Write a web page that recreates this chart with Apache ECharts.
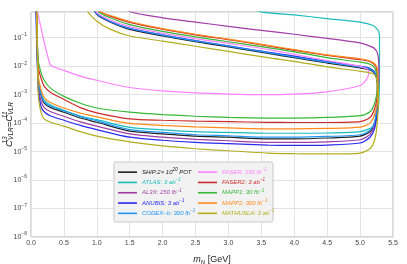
<!DOCTYPE html>
<html><head><meta charset="utf-8">
<script src="https://cdn.jsdelivr.net/npm/echarts@6/dist/echarts.min.js"></script>
<style>html,body{margin:0;padding:0;background:#fff}#c{width:407px;height:264px}</style>
</head><body><div id="c"></div>
<script>
// ---- data (mN [GeV], coupling); each curve is a closed contour ----
const SHIP = [[0.08,2],[0.11,3.2e-3],[0.15,1.0e-3],[0.2,5.0e-4],[0.3,3.5e-4],[0.5,2.4e-4],[0.75,1.51e-4],[1.0,1.07e-4],[1.5,5.2e-5],[2.0,4.2e-5],[2.5,3.5e-5],[3.0,3.2e-5],[3.6,2.8e-5],[4.0,2.8e-5],[4.5,3.0e-5],[5.0,3.5e-5],[5.15,5.0e-5],[5.22,1.0e-4],[5.26,4.0e-4],[5.27,1.6e-3],
  [5.26,3.2e-3],[5.22,5.6e-3],[5.15,7.4e-3],[5.0,8.7e-3],[4.5,1.29e-2],[4.0,2.0e-2],[3.6,2.8e-2],[3.0,4.8e-2],[2.5,7.2e-2],[2.0,0.115],[1.5,0.195],[1.2,0.355],[1.0,0.66],[0.88,2]];
const ATLAS = [[0.08,2],[0.11,4.0e-3],[0.15,1.26e-3],[0.2,6.3e-4],[0.3,4.3e-4],[0.5,2.8e-4],[0.75,1.78e-4],[1.0,1.32e-4],[1.5,7.1e-5],[2.0,5.8e-5],[2.5,5.0e-5],[3.0,4.7e-5],[3.6,4.4e-5],[4.0,4.4e-5],[4.5,4.5e-5],[5.0,5.0e-5],[5.2,7.9e-5],[5.27,2.5e-4],[5.29,1.0e-3],
  [5.295,1.0e-2],[5.295,1.0e-1],[5.285,0.16],[5.26,0.2],[5.2,0.27],[5.0,0.355],[4.5,0.47],[4.0,0.63],[3.48,0.83],[3.0,2]];
const AL3X = [[0.08,2],[0.11,2.0e-3],[0.15,6.3e-4],[0.2,3.5e-4],[0.3,2.5e-4],[0.5,1.74e-4],[0.75,1.1e-4],[1.0,7.8e-5],[1.5,4.2e-5],[2.0,3.2e-5],[2.5,2.7e-5],[3.0,2.4e-5],[3.6,2.1e-5],[4.0,2.1e-5],[4.5,2.2e-5],[5.0,2.6e-5],[5.15,4.0e-5],[5.22,7.9e-5],[5.26,3.2e-4],[5.28,2.0e-3],
  [5.285,8.0e-3],[5.27,2.5e-2],[5.22,4.2e-2],[5.1,5.6e-2],[5.0,6.6e-2],[4.5,9.5e-2],[4.0,0.132],[3.6,0.17],[3.0,0.25],[2.5,0.355],[2.0,0.5],[1.5,0.83],[1.3,2]];
const ANUBIS = [[0.07,2],[0.11,1.6e-3],[0.15,4.0e-4],[0.2,2.5e-4],[0.3,1.78e-4],[0.5,1.26e-4],[0.75,8.3e-5],[1.0,5.9e-5],[1.5,3.2e-5],[2.0,2.5e-5],[2.5,2.1e-5],[3.0,1.9e-5],[3.6,1.7e-5],[4.0,1.66e-5],[4.5,1.7e-5],[5.0,2.0e-5],[5.15,3.2e-5],[5.22,6.3e-5],[5.26,2.5e-4],[5.27,1.6e-3],
  [5.26,3.2e-3],[5.22,6.3e-3],[5.15,8.5e-3],[5.0,1.0e-2],[4.5,1.45e-2],[4.0,2.24e-2],[3.6,3.1e-2],[3.0,5.2e-2],[2.5,7.9e-2],[2.0,0.126],[1.5,0.214],[1.2,0.38],[1.0,0.71],[0.9,2]];
const CODEXB = [[0.08,2],[0.11,3.5e-3],[0.15,1.1e-3],[0.2,5.6e-4],[0.3,3.9e-4],[0.5,2.7e-4],[0.75,1.7e-4],[1.0,1.2e-4],[1.5,5.9e-5],[2.0,4.7e-5],[2.5,3.9e-5],[3.0,3.6e-5],[3.6,3.2e-5],[4.0,3.2e-5],[4.5,3.4e-5],[5.0,3.9e-5],[5.15,5.6e-5],[5.22,1.1e-4],[5.26,4.5e-4],[5.27,1.8e-3],
  [5.26,3.4e-3],[5.22,6.0e-3],[5.15,7.9e-3],[5.0,9.3e-3],[4.5,1.38e-2],[4.0,2.1e-2],[3.6,3.0e-2],[3.0,5.1e-2],[2.5,7.7e-2],[2.0,0.123],[1.5,0.21],[1.2,0.38],[1.0,0.7],[0.88,2]];
const FASER = [[0.065,2],[0.29,1.15e-2],[0.4,8.5e-3],[0.5,7.1e-3],[0.75,4.5e-3],[1.0,3.2e-3],[1.5,1.78e-3],[2.0,1.35e-3],[2.5,1.15e-3],[3.0,1.05e-3],[3.5,1.0e-3],[4.0,1.05e-3],[4.5,1.26e-3],[5.0,2.1e-3],[5.1,3.5e-3],[5.13,5.6e-3],[5.11,8.0e-3],
  [5.05,8.9e-3],[5.0,1.0e-2],[4.5,1.58e-2],[4.0,2.6e-2],[3.6,3.9e-2],[3.0,6.3e-2],[2.5,9.3e-2],[2.0,0.145],[1.5,0.245],[1.2,0.42],[1.0,0.76],[0.92,2]];
const FASER2 = [[0.08,2],[0.11,1.0e-2],[0.15,4.0e-3],[0.2,2.0e-3],[0.3,1.2e-3],[0.5,6.8e-4],[0.75,3.5e-4],[1.0,2.3e-4],[1.5,1.41e-4],[2.0,1.26e-4],[2.5,1.17e-4],[3.0,1.12e-4],[3.6,1.07e-4],[4.0,1.05e-4],[4.5,1.05e-4],[5.0,1.12e-4],[5.15,1.58e-4],[5.22,3.2e-4],[5.26,1.0e-3],
  [5.26,4.0e-3],[5.24,1.0e-2],[5.15,1.45e-2],[5.0,1.7e-2],[4.5,2.4e-2],[4.0,3.6e-2],[3.6,5.2e-2],[3.0,8.5e-2],[2.5,0.126],[2.0,0.2],[1.5,0.347],[1.2,0.575],[1.02,0.89],[0.95,2]];
const MAPP1 = [[0.08,2],[0.11,1.6e-2],[0.15,6.3e-3],[0.2,3.2e-3],[0.3,1.66e-3],[0.5,8.7e-4],[0.75,5.0e-4],[1.0,3.4e-4],[1.5,2.45e-4],[2.0,2.0e-4],[2.5,1.74e-4],[3.0,1.58e-4],[3.6,1.51e-4],[4.0,1.51e-4],[4.5,1.58e-4],[5.0,1.82e-4],[5.15,2.5e-4],[5.22,5.0e-4],[5.26,1.6e-3],
  [5.26,4.0e-3],[5.22,8.9e-3],[5.15,1.17e-2],[5.0,1.38e-2],[4.5,2.0e-2],[4.0,3.2e-2],[3.6,4.5e-2],[3.0,7.2e-2],[2.5,0.107],[2.0,0.166],[1.5,0.288],[1.2,0.5],[1.0,0.89],[0.9,2]];
const MAPP2 = [[0.08,2],[0.11,5.0e-3],[0.15,1.6e-3],[0.2,7.9e-4],[0.3,5.2e-4],[0.5,3.4e-4],[0.75,2.24e-4],[1.0,1.66e-4],[1.5,9.8e-5],[2.0,8.3e-5],[2.5,7.4e-5],[3.0,6.8e-5],[3.6,6.3e-5],[4.0,6.3e-5],[4.5,6.5e-5],[5.0,7.2e-5],[5.15,1.0e-4],[5.22,2.0e-4],[5.27,7.9e-4],
  [5.27,4.0e-3],[5.25,1.0e-2],[5.15,1.51e-2],[5.0,1.82e-2],[4.5,2.5e-2],[4.0,3.8e-2],[3.6,5.4e-2],[3.0,8.9e-2],[2.5,0.132],[2.0,0.209],[1.5,0.372],[1.25,0.56],[1.05,0.83],[0.95,2]];
const MATHUSLA = [[0.09,2],[0.11,1.0e-3],[0.15,2.5e-4],[0.2,1.41e-4],[0.3,1.07e-4],[0.5,7.8e-5],[0.75,5.0e-5],[1.0,3.5e-5],[1.5,2.2e-5],[2.0,1.58e-5],[2.5,1.26e-5],[3.0,1.07e-5],[3.6,8.9e-6],[4.0,8.5e-6],[4.5,8.3e-6],[5.0,8.9e-6],[5.15,1.26e-5],[5.22,2.5e-5],[5.26,1.0e-4],[5.28,1.0e-3],
  [5.27,2.5e-3],[5.22,5.0e-3],[5.15,5.8e-3],[5.0,6.6e-3],[4.5,9.5e-3],[4.0,1.48e-2],[3.6,2.0e-2],[3.0,3.3e-2],[2.5,5.0e-2],[2.0,7.6e-2],[1.5,0.115],[1.2,0.2],[1.0,0.38],[0.85,0.89],[0.8,2]];

const seriesNames = ['SHiP','ATLAS','AL3X','ANUBIS','CODEX-b','FASER','FASER2','MAPP1','MAPP2','MATHUSLA'];
const seriesData = [SHIP, ATLAS, AL3X, ANUBIS, CODEXB, FASER, FASER2, MAPP1, MAPP2, MATHUSLA];
const seriesColors = ['#222222','#1bbcbc','#a13ea6','#2a2af0','#2096f5','#ff80ff','#cc2b2b','#35b835','#ff8a1c','#b3ad1e'];
const legendLabels = ['SHiP:2× 10{sup|20} POT','ATLAS: 3 ab{sup|−1}','AL3X: 250 fb{sup|−1}','ANUBIS: 3 ab{sup|−1}','CODEX−b: 300 fb{sup|−1}',
                      'FASER: 150 fb{sup|−1}','FASER2: 3 ab{sup|−1}','MAPP1: 30 fb{sup|−1}','MAPP2: 300 fb{sup|−1}','MATHUSLA: 3 ab{sup|−1}'];
const xTickLabels = ['0.0','0.5','1.0','1.5','2.0','2.5','3.0','3.5','4.0','4.5','5.0','5.5'];
const yTickExps = [-8,-7,-6,-5,-4,-3,-2,-1];
const xRange = [0, 5.5];
const yRange = [1e-8, 0.8];

const FONT = 'Liberation Sans';
const chart = echarts.init(document.getElementById('c'), null, {renderer:'canvas'});
const labelMap = {};
seriesNames.forEach((n,i)=>labelMap[n]=legendLabels[i]);

function legendFor(names, left, width){
  return {
    show:true, orient:'vertical', left:left, top:167, z:60,
    itemWidth:19, itemHeight:1.6, itemGap:0, icon:'rect', selectedMode:false, padding:0,
    data: names.map(n=>({name:n, textStyle:{color: seriesColors[seriesNames.indexOf(n)]}})),
    formatter: n=>labelMap[n],
    textStyle:{fontFamily:FONT, fontStyle:'italic', fontSize:6, lineHeight:10.3, height:10.3, width:width, align:'right',
      rich:{sup:{fontSize:4.5, fontStyle:'italic', fontFamily:FONT, lineHeight:4, padding:[0,0,5,0]}}}
  };
}

const option = {
  animation:false,
  backgroundColor:'#ffffff',
  grid:{left:31, right:14, top:12, bottom:27, show:true, borderColor:'#b3b3b3', borderWidth:1, backgroundColor:'transparent',
    containLabel:false, outerBoundsMode:'none'},
  xAxis:{type:'value', min:xRange[0], max:xRange[1], interval:0.5,
    axisLine:{show:false}, axisTick:{show:false},
    splitLine:{show:true, lineStyle:{color:'#e3e3e3', width:1}},
    axisLabel:{fontFamily:FONT, fontSize:7, color:'#444', margin:3, formatter:(v)=>{const i=Math.round(v/0.5); return xTickLabels[i]||'';}},
    name:'{it|m}{sb|N} [GeV]', nameLocation:'middle', nameGap:18, nameMoveOverlap:false,
    nameTextStyle:{fontFamily:FONT, fontSize:9, color:'#222', rich:{it:{fontStyle:'italic', fontSize:9, fontFamily:FONT}, sb:{fontStyle:'italic', fontSize:6, fontFamily:FONT, lineHeight:4, padding:[5,0,0,0]}}}
  },
  yAxis:{type:'log', logBase:10, min:yRange[0], max:yRange[1], splitNumber:10,
    axisLine:{show:false}, axisTick:{show:false}, minorTick:{show:false},
    splitLine:{show:true, lineStyle:{color:'#e3e3e3', width:1}},
    axisLabel:{fontFamily:FONT, fontSize:7, color:'#444', margin:4, showMaxLabel:false,
      formatter:(v)=>{const l=Math.log10(v); const e=Math.round(l); if(Math.abs(l-e)>1e-3||yTickExps.indexOf(e)<0) return ''; return '10{sup|'+(e<0?'−':'')+Math.abs(e)+'}';},
      rich:{sup:{fontSize:5, fontFamily:FONT, color:'#444', lineHeight:4, padding:[0,0,6,0]}}},
    name:'C{sp|13}{sb|VLR}=C{sp|11}{sb|VLR}', nameLocation:'middle', nameGap:16, nameMoveOverlap:false,
    nameTextStyle:{fontFamily:FONT, fontStyle:'italic', fontSize:9.5, color:'#222', lineHeight:12,
      rich:{sp:{fontSize:6.5, fontStyle:'italic', fontFamily:FONT, width:0.1, lineHeight:5, padding:[0,0,7,0]},
            sb:{fontSize:6.5, fontStyle:'italic', fontFamily:FONT, lineHeight:5, padding:[5,0,0,0]}}}
  },
  legend:[ legendFor(seriesNames.slice(0,5), 118, 47), legendFor(seriesNames.slice(5), 198, 46) ],
  graphic:[{type:'rect', z:50, shape:{x:114, y:162, width:159, height:60, r:1.5},
    style:{fill:'#f2f2f2', stroke:'#c9c9c9', lineWidth:1}}],
  series: seriesNames.map((n,i)=>({
    name:n, type:'line', data:seriesData[i], showSymbol:false, symbol:'none', clip:true, smooth:0.25,
    lineStyle:{color:seriesColors[i], width:1.2}, itemStyle:{color:seriesColors[i]}, z:2
  }))
};
chart.setOption(option);
</script></body></html>
